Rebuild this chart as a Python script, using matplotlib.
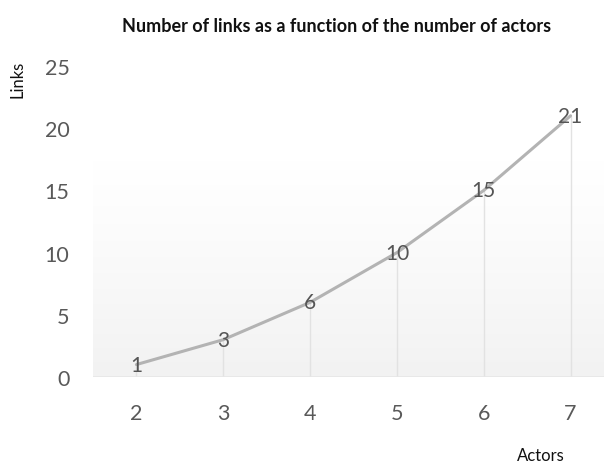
import numpy as np
import matplotlib
matplotlib.use("Agg")
import matplotlib.pyplot as plt
from matplotlib.colors import LinearSegmentedColormap

actors = [2, 3, 4, 5, 6, 7]
links = [1, 3, 6, 10, 15, 21]
y_ticks = [0, 5, 10, 15, 20, 25]

plt.rcParams['font.family'] = ['Lato', 'DejaVu Sans']

fig = plt.figure(figsize=(6.04, 4.64), dpi=100)
W, H = 604, 464
ax = fig.add_axes([93 / W, (H - 378) / H, 521 / W, 311 / H])
ax.set_xlim(1.5, 7.5)
ax.set_ylim(0, 25)

# soft grey gradient behind the lower part of the plot (white at top)
grad = np.linspace(0, 1, 256).reshape(-1, 1) ** 1.2
cmap = LinearSegmentedColormap.from_list("fade", ["#ffffff", "#f2f2f2"])
ax.imshow(grad, extent=(1.5, 7.5, 0, 17.5), cmap=cmap, aspect="auto",
          origin="upper", zorder=0, vmin=0, vmax=1)

# drop lines from each point to the baseline
ax.vlines(actors, 0, links, colors="#e2e2e2", linewidth=1.0, zorder=1)
ax.axhline(0, color="#e6e6e6", linewidth=1.2, zorder=1)

ax.plot(actors, links, color="#b3b3b3", linewidth=2.2, zorder=2,
        solid_capstyle="round")

for x, y in zip(actors, links):
    ax.text(x, y, str(y), ha="center", va="center", fontsize=15,
            color="#555555", zorder=3)

ax.set_xticks(actors)
ax.set_xticklabels([str(a) for a in actors])
ax.set_yticks(y_ticks)
ax.set_yticklabels([str(t) for t in y_ticks])
ax.tick_params(axis="both", length=0, labelsize=15.5, labelcolor="#595959")
ax.tick_params(axis="x", pad=19)
ax.tick_params(axis="y", pad=17)
for s in ax.spines.values():
    s.set_visible(False)

fig.text(337 / W, 1 - 26 / H, "Number of links as a function of the number of actors",
         ha="center", va="center", fontsize=13, fontweight="bold", color="#111111")
fig.text(17 / W, 1 - 79 / H, "Links", rotation=90, ha="center", va="center",
         fontsize=12, color="#111111")
fig.text(541 / W, 1 - 456 / H, "Actors", ha="center", va="center",
         fontsize=12, color="#111111")

fig.savefig("out.png", dpi=100)
